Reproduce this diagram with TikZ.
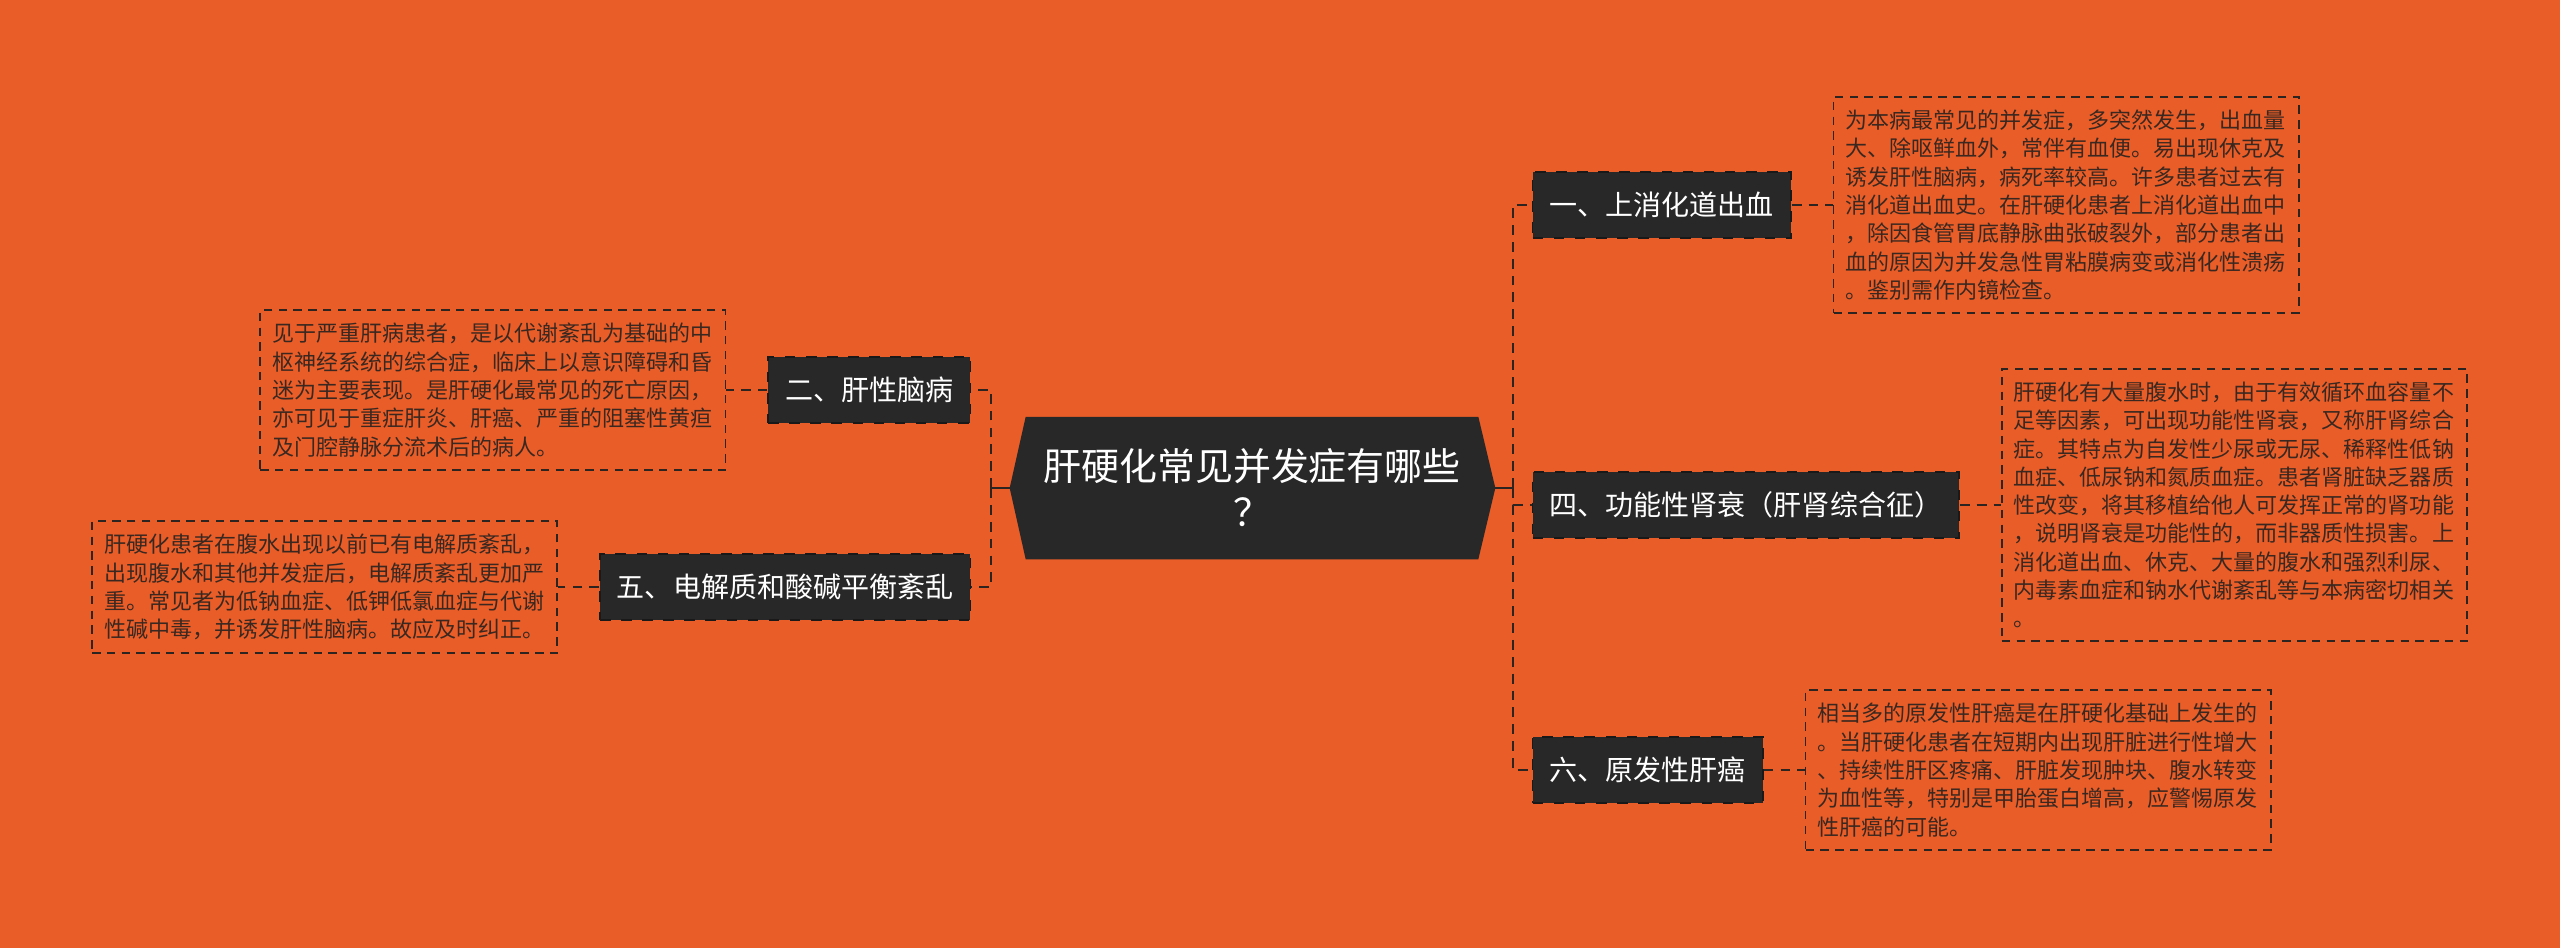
\documentclass[tikz,border=0pt]{standalone}
\usepackage{fontspec}
\setmainfont{Noto Sans CJK SC}
\usepackage{tikz}
\usetikzlibrary{positioning,calc,backgrounds}
\definecolor{bgorange}{HTML}{E95D29}
\definecolor{nodedark}{HTML}{282828}
\definecolor{linedark}{HTML}{2B2420}
\definecolor{notetext}{HTML}{3A2820}

\begin{document}
\begin{tikzpicture}[x=0.01cm,y=-0.01cm,
    root/.style={text=white,font=\fontsize{10.8pt}{13.1pt}\selectfont,align=center,
      minimum width=4.51cm,minimum height=1.41cm,inner sep=0pt},
    topic/.style={fill=nodedark,draw=black!90,dashed,line width=0.4pt,text=white,
      font=\fontsize{7.97pt}{9.5pt}\selectfont,inner xsep=0.17cm,minimum height=0.66cm},
    note/.style={draw=linedark,line width=0.5pt,dash pattern=on 2.4pt off 1.8pt,text=notetext,
      font=\fontsize{6.26pt}{8.05pt}\selectfont,text width=4.41cm,align=left,
      inner xsep=0.12cm,inner ysep=0.13cm},
    link/.style={draw=linedark,line width=0.7pt,dash pattern=on 2.8pt off 2pt},
    stub/.style={draw=linedark,line width=0.8pt}]
  \useasboundingbox (0,0) rectangle (2560,948);
  \node[root] (root) at (1252,488) {肝硬化常见并发症有哪些\\？};
  \coordinate (tipL) at ($(root.west)+(-16,0)$);
  \coordinate (tipR) at ($(root.east)+(17,0)$);
  \coordinate (teeL) at (991,488);
  \coordinate (teeR) at (1513,488);
  \begin{scope}[on background layer]
    \fill[bgorange] (0,0) rectangle (2560,948);
    \fill[nodedark] (root.north west) -- (root.north east) -- (tipR) -- (root.south east)
      -- (root.south west) -- (tipL) -- cycle;
  \end{scope}
  % right side
  \node[topic,anchor=west] (t1) at (1532,205) {一、上消化道出血};
  \node[topic,anchor=west] (t4) at (1532,505) {四、功能性肾衰（肝肾综合征）};
  \node[topic,anchor=west] (t6) at (1532,770) {六、原发性肝癌};
  % left side
  \node[topic,anchor=east] (t2) at (971,390) {二、肝性脑病};
  \node[topic,anchor=east] (t5) at (971,587) {五、电解质和酸碱平衡紊乱};
  % notes
  \node[note,right=0.41cm of t1] (d1) {为本病最常见的并发症，多突然发生，出血量\\
    大、除呕鲜血外，常伴有血便。易出现休克及\\
    诱发肝性脑病，病死率较高。许多患者过去有\\
    消化道出血史。在肝硬化患者上消化道出血中\\
    ，除因食管胃底静脉曲张破裂外，部分患者出\\
    血的原因为并发急性胃粘膜病变或消化性溃疡\\
    。鉴别需作内镜检查。};
  \node[note,right=0.41cm of t4] (d4) {肝硬化有大量腹水时，由于有效循环血容量不\\
    足等因素，可出现功能性肾衰，又称肝肾综合\\
    症。其特点为自发性少尿或无尿、稀释性低钠\\
    血症、低尿钠和氮质血症。患者肾脏缺乏器质\\
    性改变，将其移植给他人可发挥正常的肾功能\\
    ，说明肾衰是功能性的，而非器质性损害。上\\
    消化道出血、休克、大量的腹水和强烈利尿、\\
    内毒素血症和钠水代谢紊乱等与本病密切相关\\
    。};
  \node[note,right=0.41cm of t6] (d6) {相当多的原发性肝癌是在肝硬化基础上发生的\\
    。当肝硬化患者在短期内出现肝脏进行性增大\\
    、持续性肝区疼痛、肝脏发现肿块、腹水转变\\
    为血性等，特别是甲胎蛋白增高，应警惕原发\\
    性肝癌的可能。};
  \node[note,left=0.41cm of t2] (d2) {见于严重肝病患者，是以代谢紊乱为基础的中\\
    枢神经系统的综合症，临床上以意识障碍和昏\\
    迷为主要表现。是肝硬化最常见的死亡原因，\\
    亦可见于重症肝炎、肝癌、严重的阻塞性黄疸\\
    及门腔静脉分流术后的病人。};
  \node[note,left=0.41cm of t5] (d5) {肝硬化患者在腹水出现以前已有电解质紊乱，\\
    出现腹水和其他并发症后，电解质紊乱更加严\\
    重。常见者为低钠血症、低钾低氯血症与代谢\\
    性碱中毒，并诱发肝性脑病。故应及时纠正。};
  % connectors
  \draw[stub] (tipR) -- (teeR) ++(0,-8) -- ++(0,16);
  \draw[stub] (tipL) -- (teeL) ++(0,-8) -- ++(0,16);
  \foreach \t in {t1,t4,t6} {
    \draw[link] (teeR) |- (\t.west);
  }
  \foreach \t in {t2,t5} {
    \draw[link] (teeL) |- (\t.east);
  }
  \foreach \t/\d in {t1/d1,t4/d4,t6/d6} {
    \draw[link] (\t.east) -- (\d.west);
  }
  \foreach \t/\d in {t2/d2,t5/d5} {
    \draw[link] (\t.west) -- (\d.east);
  }
\end{tikzpicture}
\end{document}
